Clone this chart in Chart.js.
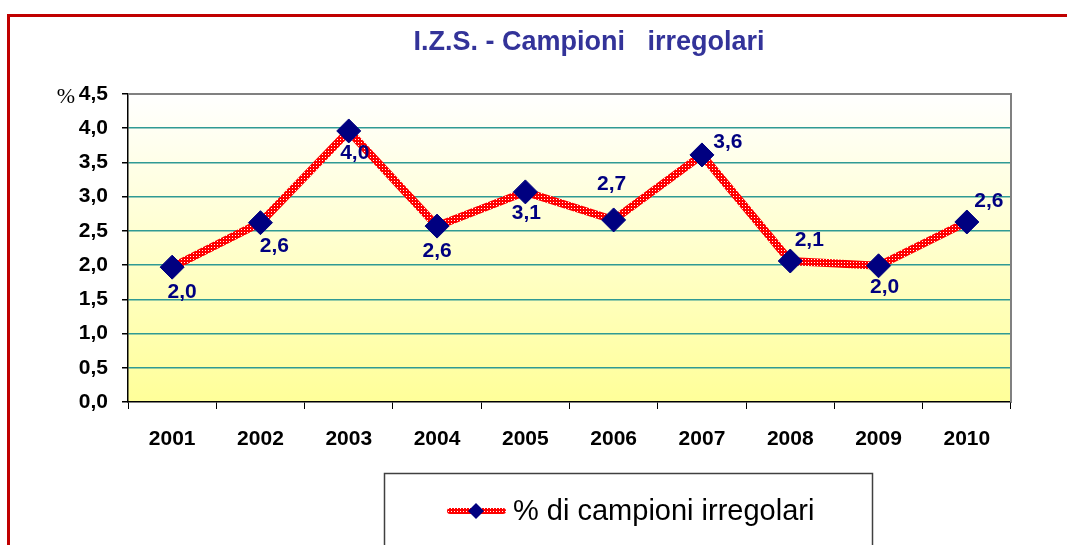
<!DOCTYPE html>
<html>
<head>
<meta charset="utf-8">
<script src="https://cdn.jsdelivr.net/npm/chart.js@4/dist/chart.umd.min.js"></script>
<style>
  body { margin: 0; background: #fff; overflow: hidden; }
  #frame { position: absolute; left: 7px; top: 14px; right: -10px; bottom: -10px;
           border-left: 3px solid #c00000; border-top: 3px solid #c00000; }
  #myChart { position: absolute; left: 0; top: 0; }
</style>
</head>
<body>
<div id="frame"></div>
<canvas id="myChart" width="1067" height="545"></canvas>
<script>
const years = ['2001', '2002', '2003', '2004', '2005', '2006', '2007', '2008', '2009', '2010'];
const irregularPct = [1.97, 2.62, 3.96, 2.57, 3.07, 2.66, 3.61, 2.06, 1.99, 2.63];
const pointLabels = ['2,0', '2,6', '4,0', '2,6', '3,1', '2,7', '3,6', '2,1', '2,0', '2,6'];
const yTickLabels = ['0,0', '0,5', '1,0', '1,5', '2,0', '2,5', '3,0', '3,5', '4,0', '4,5'];
const chartTitle = 'I.Z.S. - Campioni   irregolari';
const seriesName = '% di campioni irregolari';

// red line with little white dots, like the excel texture
function dottedRed() {
  const c = document.createElement('canvas');
  c.width = 3; c.height = 3;
  const g = c.getContext('2d');
  g.fillStyle = '#ff0000';
  g.fillRect(0, 0, 3, 3);
  g.fillStyle = '#ffffff';
  g.fillRect(1, 1, 1, 1);
  return g.createPattern(c, 'repeat');
}

const extras = {
  id: 'extras',
  beforeDraw(chart) {
    const { ctx, chartArea: a } = chart;
    const grad = ctx.createLinearGradient(0, a.top, 0, a.bottom);
    grad.addColorStop(0, '#ffffff');
    grad.addColorStop(1, '#ffff99');
    ctx.save();
    ctx.fillStyle = grad;
    ctx.fillRect(a.left, a.top, a.right - a.left, a.bottom - a.top);
    ctx.restore();
  },
  beforeDatasetsDraw(chart) {
    const { ctx, chartArea: a } = chart;
    ctx.save();
    ctx.strokeStyle = '#808080';
    ctx.lineWidth = 2;
    ctx.beginPath();
    ctx.moveTo(a.left, a.top);
    ctx.lineTo(a.right, a.top);
    ctx.lineTo(a.right, a.bottom);
    ctx.stroke();
    ctx.restore();
  },
  afterDatasetsDraw(chart) {
    const { ctx } = chart;
    const meta = chart.getDatasetMeta(0);
    const offs = [[10, 25], [14, 24], [6, 22], [0, 25], [1, 21], [-2, -36], [26, -13], [19, -21], [6, 21], [22, -21]];
    ctx.save();
    ctx.font = 'bold 21px "Liberation Sans", Arial, sans-serif';
    ctx.fillStyle = '#000080';
    ctx.textAlign = 'center';
    ctx.textBaseline = 'middle';
    meta.data.forEach((pt, i) => {
      ctx.fillText(pointLabels[i], pt.x + offs[i][0], pt.y + offs[i][1]);
    });
    ctx.restore();
  },
  afterDraw(chart) {
    const { ctx } = chart;
    const ds = chart.data.datasets[0];
    ctx.save();
    // title
    ctx.font = 'bold 27px "Liberation Sans", Arial, sans-serif';
    ctx.fillStyle = '#333399';
    ctx.textAlign = 'center';
    ctx.textBaseline = 'middle';
    ctx.fillText(chartTitle, 589, 43);
    // % unit
    ctx.font = '22px "Liberation Serif", "Times New Roman", serif';
    ctx.fillStyle = '#000';
    ctx.fillText('%', 66, 97);
    // legend box
    ctx.strokeStyle = '#404040';
    ctx.lineWidth = 1.5;
    ctx.strokeRect(384.5, 473.5, 488, 100);
    ctx.strokeStyle = ds.borderColor;
    ctx.lineWidth = 6;
    ctx.lineCap = 'round';
    ctx.beginPath();
    ctx.moveTo(450, 511);
    ctx.lineTo(503, 511);
    ctx.stroke();
    ctx.fillStyle = ds.pointBackgroundColor;
    ctx.beginPath();
    ctx.moveTo(476, 503); ctx.lineTo(484, 511); ctx.lineTo(476, 519); ctx.lineTo(468, 511);
    ctx.closePath();
    ctx.fill();
    ctx.fillStyle = '#000';
    ctx.textAlign = 'left';
    ctx.font = '29px "Liberation Sans", Arial, sans-serif';
    ctx.fillText(ds.label, 513, 512);
    ctx.restore();
  }
};

const ctx = document.getElementById('myChart').getContext('2d');
const chart = new Chart(ctx, {
  type: 'line',
  data: {
    labels: years,
    datasets: [{
      label: seriesName,
      data: irregularPct,
      borderColor: dottedRed(),
      borderWidth: 8,
      tension: 0,
      pointStyle: 'rectRot',
      pointRadius: 12,
      pointHoverRadius: 12,
      pointBackgroundColor: '#000080',
      pointBorderColor: '#000080',
      pointBorderWidth: 1
    }]
  },
  options: {
    responsive: false,
    animation: false,
    layout: { autoPadding: false, padding: { left: 0, top: 94, right: 56, bottom: 83 } },
    plugins: { legend: { display: false }, title: { display: false }, tooltip: { enabled: false } },
    scales: {
      x: {
        offset: true,
        afterFit(s) { s.height = 60; },
        grid: { offset: true, drawOnChartArea: false, tickColor: '#000', tickLength: 7 },
        border: { color: '#000', width: 1.5 },
        ticks: { color: '#000', padding: 18, font: { family: '"Liberation Sans", Arial', size: 21, weight: 'bold' } }
      },
      y: {
        min: 0,
        max: 4.5,
        afterFit(s) { s.width = 128; },
        grid: {
          color: c => c.index === 0 ? 'rgba(0,0,0,0)' : (c.index === yTickLabels.length - 1 ? '#808080' : '#2f9a94'),
          lineWidth: 1.5,
          tickColor: '#000',
          tickLength: 6
        },
        border: { color: '#000', width: 1.5 },
        ticks: {
          stepSize: 0.5,
          color: '#000',
          padding: 14,
          font: { family: '"Liberation Sans", Arial', size: 21, weight: 'bold' },
          callback: (v, i) => yTickLabels[i]
        }
      }
    }
  },
  plugins: [extras]
});
</script>
</body>
</html>
